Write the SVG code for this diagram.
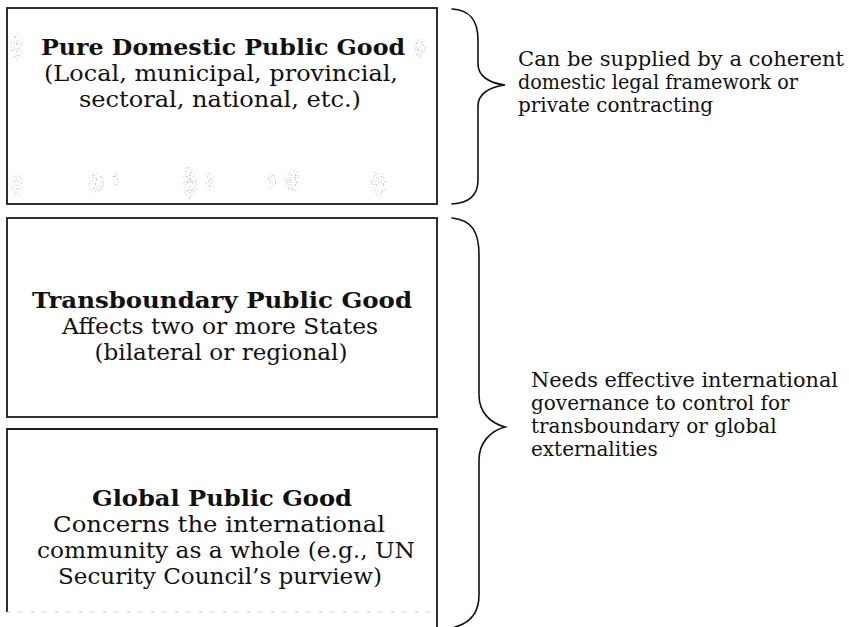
<svg xmlns="http://www.w3.org/2000/svg" width="849" height="627" viewBox="0 0 849 627">
  <defs>
    <!-- speckled print grain: noise thresholded into dots, clipped to each shape -->
    <filter id="grainy" x="-20%" y="-20%" width="140%" height="140%">
      <feTurbulence type="fractalNoise" baseFrequency="0.85" numOctaves="1" seed="7" result="noise"/>
      <feColorMatrix in="noise" type="matrix" values="0 0 0 0 0.45  0 0 0 0 0.45  0 0 0 0 0.45  4.5 0 0 0 -2.45" result="dots"/>
      <feComposite in="dots" in2="SourceGraphic" operator="in"/>
    </filter>
  </defs>
  <style>
    .box { fill: #ffffff; stroke: #1a1a1a; stroke-width: 1.8; }
    .brace { fill: none; stroke: #111111; stroke-width: 1.6; stroke-linecap: round; }
    .title { font-family: "DejaVu Serif", "Liberation Serif", serif; font-weight: bold; font-size: 22px; fill: #111111; text-anchor: middle; }
    .body { font-family: "DejaVu Serif", "Liberation Serif", serif; font-size: 22px; fill: #111111; text-anchor: middle; }
    .note { font-family: "DejaVu Serif", "Liberation Serif", serif; font-size: 20px; fill: #111111; }
    .grain { fill: #000000; filter: url(#grainy); }
  </style>
  <rect width="849" height="627" fill="#ffffff"/>

  <g id="node-domestic">
    <rect class="box" x="7" y="8" width="430" height="196"/>
    <g id="grain">
      <ellipse class="grain" cx="17" cy="47" rx="6" ry="14"/>
      <ellipse class="grain" cx="420" cy="48" rx="6" ry="10"/>
      <ellipse class="grain" cx="17" cy="185" rx="6" ry="12"/>
      <ellipse class="grain" cx="97" cy="183" rx="8" ry="11"/>
      <ellipse class="grain" cx="116" cy="180" rx="4" ry="8"/>
      <ellipse class="grain" cx="190" cy="183" rx="7" ry="17"/>
      <ellipse class="grain" cx="190" cy="183" rx="3" ry="12"/>
      <ellipse class="grain" cx="209" cy="181" rx="4" ry="9"/>
      <ellipse class="grain" cx="272" cy="181" rx="5" ry="8"/>
      <ellipse class="grain" cx="293" cy="181" rx="8" ry="11"/>
      <ellipse class="grain" cx="378" cy="184" rx="8" ry="12"/>
    </g>
    <text class="title" x="223" y="55" textLength="364" lengthAdjust="spacingAndGlyphs">Pure Domestic Public Good</text>
    <text class="body" x="221" y="81" textLength="354" lengthAdjust="spacingAndGlyphs">(Local, municipal, provincial,</text>
    <text class="body" x="220" y="107" textLength="282" lengthAdjust="spacingAndGlyphs">sectoral, national, etc.)</text>
  </g>

  <g id="node-transboundary">
    <rect class="box" x="7" y="218" width="430" height="199"/>
    <text class="title" x="222" y="308" textLength="380" lengthAdjust="spacingAndGlyphs">Transboundary Public Good</text>
    <text class="body" x="220" y="334" textLength="316" lengthAdjust="spacingAndGlyphs">Affects two or more States</text>
    <text class="body" x="221" y="360" textLength="253" lengthAdjust="spacingAndGlyphs">(bilateral or regional)</text>
  </g>

  <g id="node-global">
    <path class="box" d="M7,612 L7,429 L437,429 L437,627" fill="none"/>
    <line x1="7" y1="612" x2="437" y2="612" stroke="#c8c8c8" stroke-width="1" stroke-dasharray="3 9"/>
    <text class="title" x="222" y="506" textLength="260" lengthAdjust="spacingAndGlyphs">Global Public Good</text>
    <text class="body" x="219" y="532" textLength="332" lengthAdjust="spacingAndGlyphs">Concerns the international</text>
    <text class="body" x="226" y="558" textLength="378" lengthAdjust="spacingAndGlyphs">community as a whole (e.g., UN</text>
    <text class="body" x="220" y="584" textLength="324" lengthAdjust="spacingAndGlyphs">Security Council’s purview)</text>
  </g>

  <g id="note-domestic">
    <text class="note" x="518" y="66" textLength="326" lengthAdjust="spacingAndGlyphs">Can be supplied by a coherent</text>
    <text class="note" x="518" y="89" textLength="280" lengthAdjust="spacingAndGlyphs">domestic legal framework or</text>
    <text class="note" x="518" y="112">private contracting</text>
  </g>

  <g id="note-international">
    <text class="note" x="531" y="387" textLength="307" lengthAdjust="spacingAndGlyphs">Needs effective international</text>
    <text class="note" x="531" y="410">governance to control for</text>
    <text class="note" x="531" y="433">transboundary or global</text>
    <text class="note" x="531" y="456">externalities</text>
  </g>

  <g id="connectors">
    <path class="brace" d="M452,9 C470,10 478,20 478,40 L478,64 C478,76 489,83 505,85 C489,87 478,94 478,106 L478,180 C478,195 470,203 452,204"/>
    <path class="brace" d="M452,218 C472,220 479,232 479,255 L479,395 C479,412 490,423 505,427 C490,431 479,443 479,460 L479,595 C479,614 470,623 455,627"/>
  </g>
</svg>
